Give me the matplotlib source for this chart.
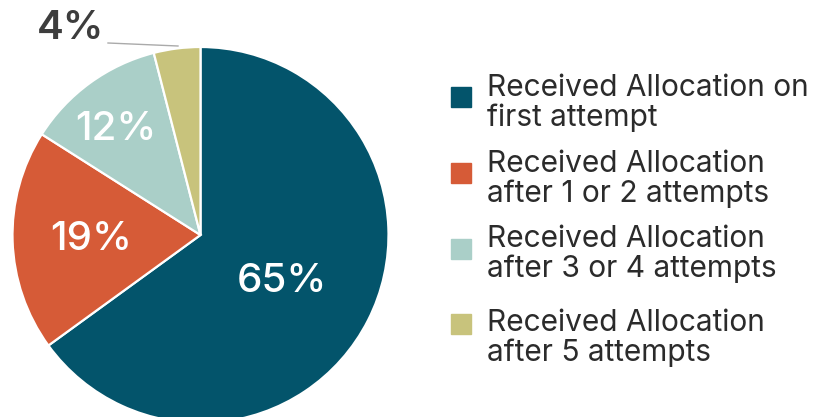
import matplotlib
matplotlib.use("Agg")
import matplotlib.pyplot as plt
from matplotlib.patches import Rectangle

shares = [65, 19, 12, 4]
labels = ["Received Allocation on\nfirst attempt",
          "Received Allocation\nafter 1 or 2 attempts",
          "Received Allocation\nafter 3 or 4 attempts",
          "Received Allocation\nafter 5 attempts"]
colors = ["#03546B", "#D65B37", "#AACFC8", "#C8C37C"]

plt.rcParams['font.family'] = ['Inter', 'DejaVu Sans']

W, H = 814, 417
fig = plt.figure(figsize=(W / 100, H / 100), dpi=100)
ax = fig.add_axes([0, 0, 1, 1])

# pie in pixel coords (y flipped: y = H - ypix)
cx, cy, r = 200.5, H - 235, 188
ax.pie(shares, colors=colors, startangle=90, counterclock=False,
       center=(cx, cy), radius=r,
       wedgeprops=dict(edgecolor="white", linewidth=1.6))

# percentage labels
lbl_pos = [(282, 282), (91, 239), (116, 129)]
for v, (x, y) in zip(shares[:3], lbl_pos):
    ax.text(x, H - y, f"{v}%", color="white", fontsize=29,
            fontweight=500, ha="center", va="center")
ax.text(71, H - 28, f"{shares[3]}%", color="#3d3d3d", fontsize=29,
        fontweight=600, ha="center", va="center")
ax.plot([108, 178], [H - 43, H - 46], color="#aaaaaa", lw=1)

# legend
sq_y = [97, 173, 249, 324]
txt_y = [100, 176, 251, 335]
for c, lab, y, ty in zip(colors, labels, sq_y, txt_y):
    ax.add_patch(Rectangle((451, H - y - 10), 20, 20, color=c))
    ax.text(487, H - ty - 3, lab, color="#2b2b2b", fontsize=21.5,
            ha="left", va="center", linespacing=1.05)

ax.set_xlim(0, W)
ax.set_ylim(0, H)
ax.set_aspect("equal")
ax.axis("off")

fig.savefig("out.png", dpi=100)
